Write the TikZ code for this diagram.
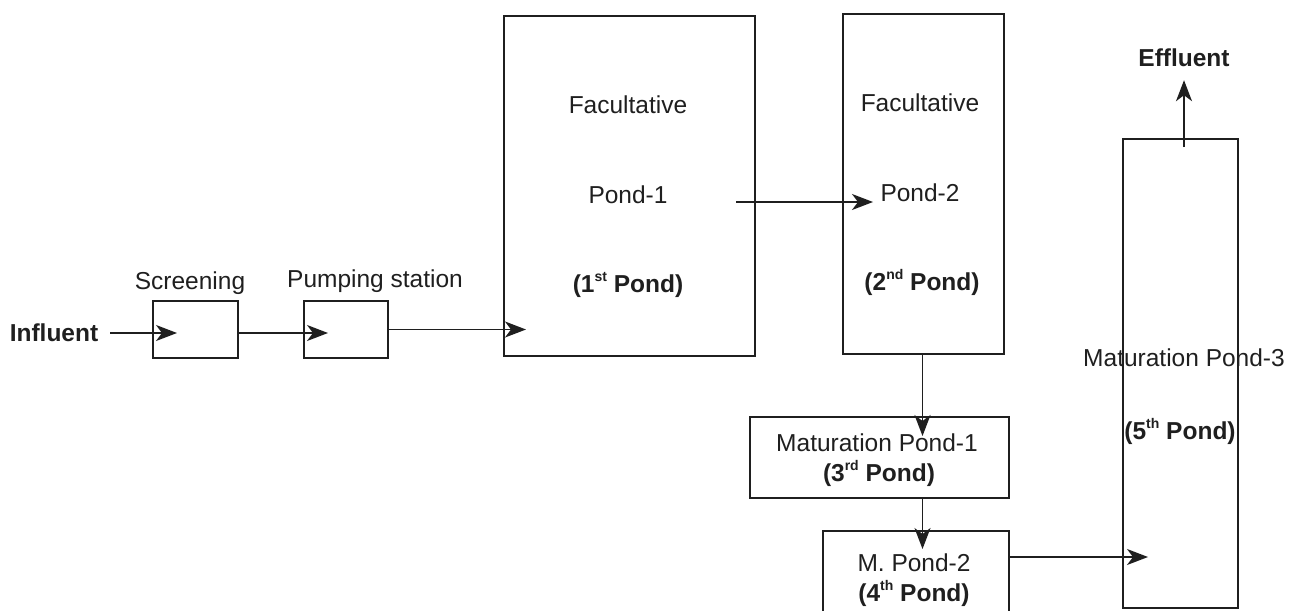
\documentclass[tikz,border=0pt]{standalone}
\usepackage{fontspec}
\setmainfont{Liberation Sans}
\usetikzlibrary{arrows.meta}
% small raised ordinal suffix
\newcommand\ordsuffix[1]{\raisebox{0.45em}{\fontsize{14}{14}\selectfont #1}}
\begin{document}
\begin{tikzpicture}[x=1pt,y=-1pt,
  ink/.style={draw=black!88, line width=2pt},
  box/.style={ink, rectangle, inner sep=0pt, anchor=north west},
  lbl/.style={font=\fontsize{24.5}{29}\selectfont, text=black!88, inner sep=0pt},
  blbl/.style={font=\fontsize{24.5}{29}\selectfont\bfseries, text=black!88, inner sep=0pt},
  flow/.style={draw=black!88, line width=1.5pt, -{Stealth[length=21pt,width=16pt,inset=6pt]}}
]
\useasboundingbox (0,0) rectangle (1300,610);

% treatment units
\node[box, minimum width=85pt,  minimum height=57pt]  (screen) at (152,300) {};
\node[box, minimum width=84pt,  minimum height=57pt]  (pump)   at (303,300) {};
\node[box, minimum width=251pt, minimum height=340pt] (pond1)  at (503,15)  {};
\node[box, minimum width=161pt, minimum height=340pt] (pond2)  at (842,13)  {};
\node[box, minimum width=259pt, minimum height=81pt]  (mat1)   at (749,416) {};
\node[box, minimum width=186pt, minimum height=84pt]  (mp2)    at (822,530) {};
\node[box, minimum width=115pt, minimum height=469pt] (pond3)  at (1122,138) {};

% labels
\node[blbl] (influent) at (54,333) {Influent};
\node[lbl]  (screenT)  at (190,283) {Screening};
\node[lbl]  (pumpT)    at (375,281) {Pumping station};

\node[lbl]  (p1a) at (628,105) {Facultative};
\node[lbl]  (p1b) at (628,195) {Pond-1};
\node[blbl] (p1c) at (628,285) {(1\ordsuffix{st} Pond)};

\node[lbl]  (p2a) at (920,103) {Facultative};
\node[lbl]  (p2b) at (920,193) {Pond-2};
\node[blbl] (p2c) at (922,282) {(2\ordsuffix{nd} Pond)};

\node[lbl]  (m1a) at (877,443) {Maturation Pond-1};
\node[blbl] (m1b) at (879,473) {(3\ordsuffix{rd} Pond)};

\node[lbl]  (m2a) at (914,563) {M. Pond-2};
\node[blbl] (m2b) at (914,593) {(4\ordsuffix{th} Pond)};

\node[lbl]  (m3a) at (1184,358) {Maturation Pond-3};
\node[blbl] (m3b) at (1180,431) {(5\ordsuffix{th} Pond)};

\node[blbl] (effl) at (1184,58) {Effluent};

% flow path
\draw[flow] ([xshift=12pt]influent.east) -- ([xshift=25pt]screen.west |- influent.east);
\draw[flow] (screen.east |- influent.east) -- ([xshift=25pt]pump.west |- influent.east);
\draw[flow] (pump.east) -- ([xshift=23pt]pond1.west |- pump.east);
\draw[flow] ([xshift=-20pt,yshift=-16pt]pond1.east) coordinate (p12) -- ([xshift=31pt]pond2.west |- p12);
\draw[flow] ([xshift=-1pt]pond2.south) coordinate (p2s) -- ([yshift=-20pt]mat1.north -| p2s);
\draw[flow] (mat1.south -| p2s) -- ([yshift=-19pt]mp2.north -| p2s);
\draw[flow] ([yshift=16pt]mp2.east) coordinate (m23) -- ([xshift=26pt]pond3.west |- m23);
\draw[flow] ([yshift=-9pt]pond3.north -| effl.south) -- ([yshift=-13pt]effl.south);
\end{tikzpicture}
\end{document}
